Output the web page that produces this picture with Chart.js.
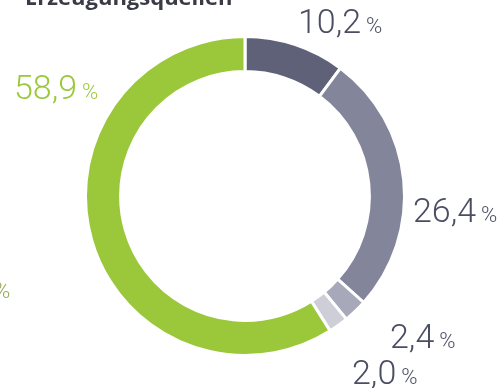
<!DOCTYPE html>
<html>
<head>
<meta charset="utf-8">
<script src="https://cdn.jsdelivr.net/npm/chart.js@4"></script>
<style>
  html, body { margin: 0; padding: 0; background: #fff; }
  #wrap { width: 499px; height: 388px; }
</style>
</head>
<body>
<div id="wrap"><canvas id="sources-chart" width="499" height="388"></canvas></div>
<script>
// Anteile der Erzeugungsquellen, im Uhrzeigersinn ab 12 Uhr
const categories = ['Quelle 1', 'Quelle 2', 'Quelle 3', 'Quelle 4', 'Quelle 5'];
const shares = [10.2, 26.4, 2.4, 2.0, 58.9];
const colors = ['#5f6179', '#83859b', '#a7a8b9', '#cdced8', '#9bc83a'];
const title = 'Erzeugungsquellen';

// label anchor (left x, baseline y) per segment
const labelPos = [[298, 33], [413, 222], [390, 348], [352, 384], [14, 99]];

function fmt(v) {
    return v.toFixed(1).replace('.', ',');
}

const labelPlugin = {
    id: 'shareLabels',
    afterDraw(chart) {
        const ctx = chart.ctx;
        ctx.save();
        ctx.textBaseline = 'alphabetic';
        ctx.textAlign = 'left';

        ctx.fillStyle = '#3a3b45';
        ctx.font = 'bold 22px "Open Sans"';
        ctx.fillText(title, 25, 5);

        shares.forEach((v, i) => {
            const [x, y] = labelPos[i];
            const col = i === 4 ? '#9bc83a' : '#4b4d63';
            ctx.fillStyle = col;
            ctx.font = '300 34px Roboto';
            const num = fmt(v);
            ctx.fillText(num, x, y);
            const w = ctx.measureText(num).width;
            ctx.font = '300 22px Roboto';
            ctx.fillText('%', x + w + 5, y);
        });

        // Prozentzeichen der Nachbargrafik am linken Rand
        ctx.fillStyle = '#8fa957';
        ctx.font = '300 22px Roboto';
        ctx.fillText('%', -6, 298);
        ctx.restore();
    }
};

const ctx = document.getElementById('sources-chart').getContext('2d');
new Chart(ctx, {
    type: 'doughnut',
    data: {
        labels: categories,
        datasets: [{
            data: shares,
            backgroundColor: colors,
            borderColor: '#ffffff',
            borderWidth: 3,
            hoverOffset: 0
        }]
    },
    options: {
        responsive: false,
        animation: false,
        cutout: '78%',
        layout: { padding: { left: 84, right: 93, top: 35, bottom: 31 } },
        plugins: {
            legend: { display: false },
            tooltip: { enabled: false }
        }
    },
    plugins: [labelPlugin]
});
</script>
</body>
</html>
